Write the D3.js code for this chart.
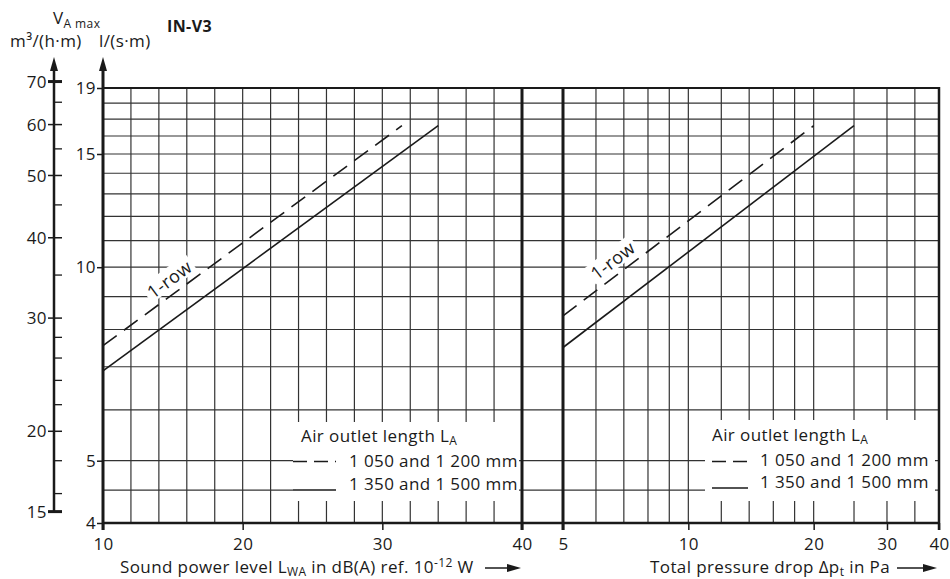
<!DOCTYPE html>
<html><head><meta charset="utf-8">
<script src="https://cdn.jsdelivr.net/npm/d3@7"></script>
<style>
body{margin:0;background:#fff}
svg text{font-family:"Open Sans",sans-serif;fill:#1a1a1a;letter-spacing:0.4px}
</style>
</head><body><svg id="c" width="950" height="579"></svg>
<script>
// ---------- data ----------
const flowTicks = [4, 5, 10, 15, 19];                       // l/(s·m)
const flowGrid = [4, 4.5, 5, 6, 7, 8, 9, 10, 11, 12, 13, 14, 15, 16, 17, 18, 19];
const flowM3Labels = [15, 20, 30, 40, 50, 60, 70];          // m³/(h·m)
const flowM3Minor = [16, 18, 22, 24, 26, 28, 35, 45, 55, 65];
const soundTicks = [10, 20, 30, 40];                        // dB(A)
const soundGrid = [10, 12, 14, 16, 18, 20, 22, 24, 26, 28, 30, 32, 34, 36, 38, 40];
const pressureTicks = [5, 10, 20, 30, 40];                  // Pa
const pressureGrid = [5, 6, 7, 8, 9, 10, 12, 14, 16, 18, 20, 25, 30, 35, 40];

const soundDashedX = [10, 31.4],  soundDashedY = [7.55, 16.6];
const soundSolidX = [10, 34],     soundSolidY = [6.9, 16.6];
const pressureDashedX = [5, 20],  pressureDashedY = [8.4, 16.6];
const pressureSolidX = [5, 25],   pressureSolidY = [7.5, 16.6];

const legendTitle = "Air outlet length L";
const legendItems = ["1 050 and 1 200 mm", "1 350 and 1 500 mm"];
const rowLabel = "1-row";
const labelAnchorSound = 15.35, labelAnchorPressure = 6.9;
const M3_PER_LS = 3.6;

// ---------- setup ----------
const svg = d3.select("#c");
const TOP = 88, BOT = 523;
const y = d3.scaleLog().domain([4, 19]).range([BOT, TOP]);
const xS = d3.scaleLinear().domain([10, 40]).range([103, 522]);
const xP = d3.scaleLog().domain([5, 40]).range([563, 939]);
const ySec = v => y(v / M3_PER_LS);
const ink = "#1a1a1a";

// ---------- grid ----------
const grid = svg.append("g").attr("stroke", "#333").attr("stroke-width", 1.2);
grid.selectAll(".h").data(flowGrid).join("line")
  .attr("x1", 103).attr("x2", 939).attr("y1", d => y(d)).attr("y2", d => y(d));
grid.selectAll(".vs").data(soundGrid).join("line").attr("class","vs")
  .attr("x1", d => xS(d)).attr("x2", d => xS(d)).attr("y1", TOP).attr("y2", BOT);
grid.selectAll(".vp").data(pressureGrid).join("line").attr("class","vp")
  .attr("x1", d => xP(d)).attr("x2", d => xP(d)).attr("y1", TOP).attr("y2", BOT);

// ---------- frame ----------
const frame = svg.append("g").attr("stroke", ink).attr("fill", "none");
frame.append("line").attr("x1", 103).attr("x2", 940).attr("y1", TOP).attr("y2", TOP).attr("stroke-width", 2);
frame.append("line").attr("x1", 103).attr("x2", 940).attr("y1", BOT).attr("y2", BOT).attr("stroke-width", 2.5);
frame.append("line").attr("x1", xS(40)).attr("x2", xS(40)).attr("y1", TOP).attr("y2", BOT + 7).attr("stroke-width", 3);
frame.append("line").attr("x1", xP(5)).attr("x2", xP(5)).attr("y1", TOP).attr("y2", BOT + 7).attr("stroke-width", 3);
frame.append("line").attr("x1", xP(40)).attr("x2", xP(40)).attr("y1", TOP - 1).attr("y2", BOT + 7).attr("stroke-width", 2.5);

// primary y axis with arrow
frame.append("line").attr("x1", 103).attr("x2", 103).attr("y1", BOT + 7).attr("y2", 66).attr("stroke-width", 3);
svg.append("path").attr("d", "M103,57 L99,71 L107,71 Z").attr("fill", ink);

// secondary axis with arrow
const secX = 54;
frame.append("line").attr("x1", secX).attr("x2", secX).attr("y1", ySec(15) + 1).attr("y2", 66).attr("stroke-width", 2.5);
svg.append("path").attr("d", `M${secX},57 L${secX-4},71 L${secX+4},71 Z`).attr("fill", ink);
const sec = svg.append("g").attr("stroke", ink);
sec.selectAll(".mn").data(flowM3Minor).join("line").attr("class","mn")
  .attr("x1", secX).attr("x2", 62).attr("y1", d => ySec(d)).attr("y2", d => ySec(d)).attr("stroke-width", 1.3);
sec.selectAll(".mj").data(flowM3Labels).join("line").attr("class","mj")
  .attr("x1", 48).attr("x2", 62).attr("y1", d => ySec(d)).attr("y2", d => ySec(d))
  .attr("stroke-width", (d, i) => (i === 0 || i === flowM3Labels.length - 1) ? 3 : 1.5);
svg.append("g").selectAll("text").data(flowM3Labels).join("text")
  .attr("x", 47).attr("y", d => ySec(d)).attr("dy", "0.36em")
  .attr("text-anchor", "end").attr("font-size", 17).text(d => d);

// primary axis ticks/labels
const ay = svg.append("g").attr("transform", "translate(103,0)")
  .call(d3.axisLeft(y).tickValues(flowTicks).tickFormat(d3.format("d")).tickSize(6).tickPadding(1));
ay.select(".domain").remove();
ay.selectAll("line").attr("stroke", ink).attr("stroke-width", 1.5);
ay.selectAll("text").attr("font-size", 17).attr("font-family", "Open Sans").attr("fill", ink);

// bottom axes
function bottom(scale, vals) {
  const g = svg.append("g").attr("transform", `translate(0,${BOT})`)
    .call(d3.axisBottom(scale).tickValues(vals).tickFormat(d3.format("d")).tickSize(7).tickPadding(8));
  g.select(".domain").remove();
  g.selectAll("line").attr("stroke", ink).attr("stroke-width", 1.5);
  g.selectAll("text").attr("font-size", 17).attr("font-family", "Open Sans").attr("fill", ink);
}
bottom(xS, soundTicks);
bottom(xP, pressureTicks);

// ---------- legends ----------
function legend(x0, x1, y0, y1, tx, ty, sx0, sx1, dashY, solidY, itemX, itemY) {
  svg.append("rect").attr("x", x0).attr("y", y0).attr("width", x1 - x0).attr("height", y1 - y0).attr("fill", "#fff");
  const t = svg.append("text").attr("x", tx).attr("y", ty).attr("font-size", 17);
  t.append("tspan").text(legendTitle);
  t.append("tspan").attr("font-size", 12).attr("dy", 3).text("A");
  svg.append("line").attr("x1", sx0).attr("x2", sx1).attr("y1", dashY).attr("y2", dashY)
    .attr("stroke", ink).attr("stroke-width", 1.5).attr("stroke-dasharray", "14,7");
  svg.append("line").attr("x1", sx0).attr("x2", sx1).attr("y1", solidY).attr("y2", solidY)
    .attr("stroke", ink).attr("stroke-width", 1.5);
  legendItems.forEach((s, i) => svg.append("text").attr("x", itemX).attr("y", itemY[i])
    .attr("font-size", 17).text(s));
}
legend(293, 519, 422, 501, 301, 442, 293, 336, 461.5, 490, 349, [467, 490]);
legend(705, 935, 420, 501, 712, 441, 712, 748, 461.5, 488, 760, [466, 488]);

// ---------- data lines ----------
const lineS = d3.line().x(d => xS(d[0])).y(d => y(d[1]));
const lineP = d3.line().x(d => xP(d[0])).y(d => y(d[1]));
const zip = (a, b) => a.map((v, i) => [v, b[i]]);

function rowLbl(sx, sy, scaleX, anchor) {
  const p0 = [scaleX(sx[0]), y(sy[0])], p1 = [scaleX(sx[1]), y(sy[1])];
  const ang = Math.atan2(p1[1] - p0[1], p1[0] - p0[0]);
  const t = (scaleX(anchor) - p0[0]) / (p1[0] - p0[0]);
  const px = p0[0] + t * (p1[0] - p0[0]), py = p0[1] + t * (p1[1] - p0[1]);
  const off = 14;
  const cx = px + off * Math.sin(ang), cy = py - off * Math.cos(ang);
  const g = svg.append("g").attr("transform", `translate(${cx},${cy}) rotate(${ang * 180 / Math.PI})`);
  g.append("rect").attr("x", -28).attr("y", -11).attr("width", 56).attr("height", 20).attr("fill", "#fff");
  g.append("text").attr("text-anchor", "middle").attr("dy", "0.36em").attr("font-size", 18).text(rowLabel);
}
rowLbl(soundDashedX, soundDashedY, xS, labelAnchorSound);
rowLbl(pressureDashedX, pressureDashedY, xP, labelAnchorPressure);

const dl = svg.append("g").attr("fill", "none").attr("stroke", ink).attr("stroke-width", 1.6);
dl.append("path").attr("d", lineS(zip(soundDashedX, soundDashedY))).attr("stroke-dasharray", "17,9");
dl.append("path").attr("d", lineS(zip(soundSolidX, soundSolidY)));
dl.append("path").attr("d", lineP(zip(pressureDashedX, pressureDashedY))).attr("stroke-dasharray", "17,9");
dl.append("path").attr("d", lineP(zip(pressureSolidX, pressureSolidY)));

// ---------- titles ----------
const vt = svg.append("text").attr("x", 53).attr("y", 24).attr("font-size", 17);
vt.append("tspan").text("V");
vt.append("tspan").attr("font-size", 12).attr("dy", 4).text("A max");
svg.append("text").attr("x", 10).attr("y", 47).attr("font-size", 17).text("m³/(h·m)");
svg.append("text").attr("x", 99).attr("y", 47).attr("font-size", 17).text("l/(s·m)");
svg.append("text").attr("x", 167).attr("y", 32).attr("font-size", 16).attr("font-weight", "bold").text("IN-V3");

const xt1 = svg.append("text").attr("x", 120).attr("y", 573).attr("font-size", 17);
xt1.append("tspan").text("Sound power level L");
xt1.append("tspan").attr("font-size", 12).attr("dy", 3).text("WA");
xt1.append("tspan").attr("dy", -3).text(" in dB(A) ref. 10");
xt1.append("tspan").attr("font-size", 12).attr("dy", -6).text("-12");
xt1.append("tspan").attr("dy", 6).text(" W");
svg.append("line").attr("x1", 485).attr("x2", 510).attr("y1", 568).attr("y2", 568).attr("stroke", ink).attr("stroke-width", 1.5);
svg.append("path").attr("d", "M521,568 L507,564 L507,572 Z").attr("fill", ink);

const xt2 = svg.append("text").attr("x", 650).attr("y", 573).attr("font-size", 17);
xt2.append("tspan").text("Total pressure drop Δp");
xt2.append("tspan").attr("font-size", 12).attr("dy", 3).text("t");
xt2.append("tspan").attr("dy", -3).text(" in Pa");
svg.append("line").attr("x1", 897).attr("x2", 926).attr("y1", 568).attr("y2", 568).attr("stroke", ink).attr("stroke-width", 1.5);
svg.append("path").attr("d", "M937,568 L923,564 L923,572 Z").attr("fill", ink);
</script>
</body></html>
